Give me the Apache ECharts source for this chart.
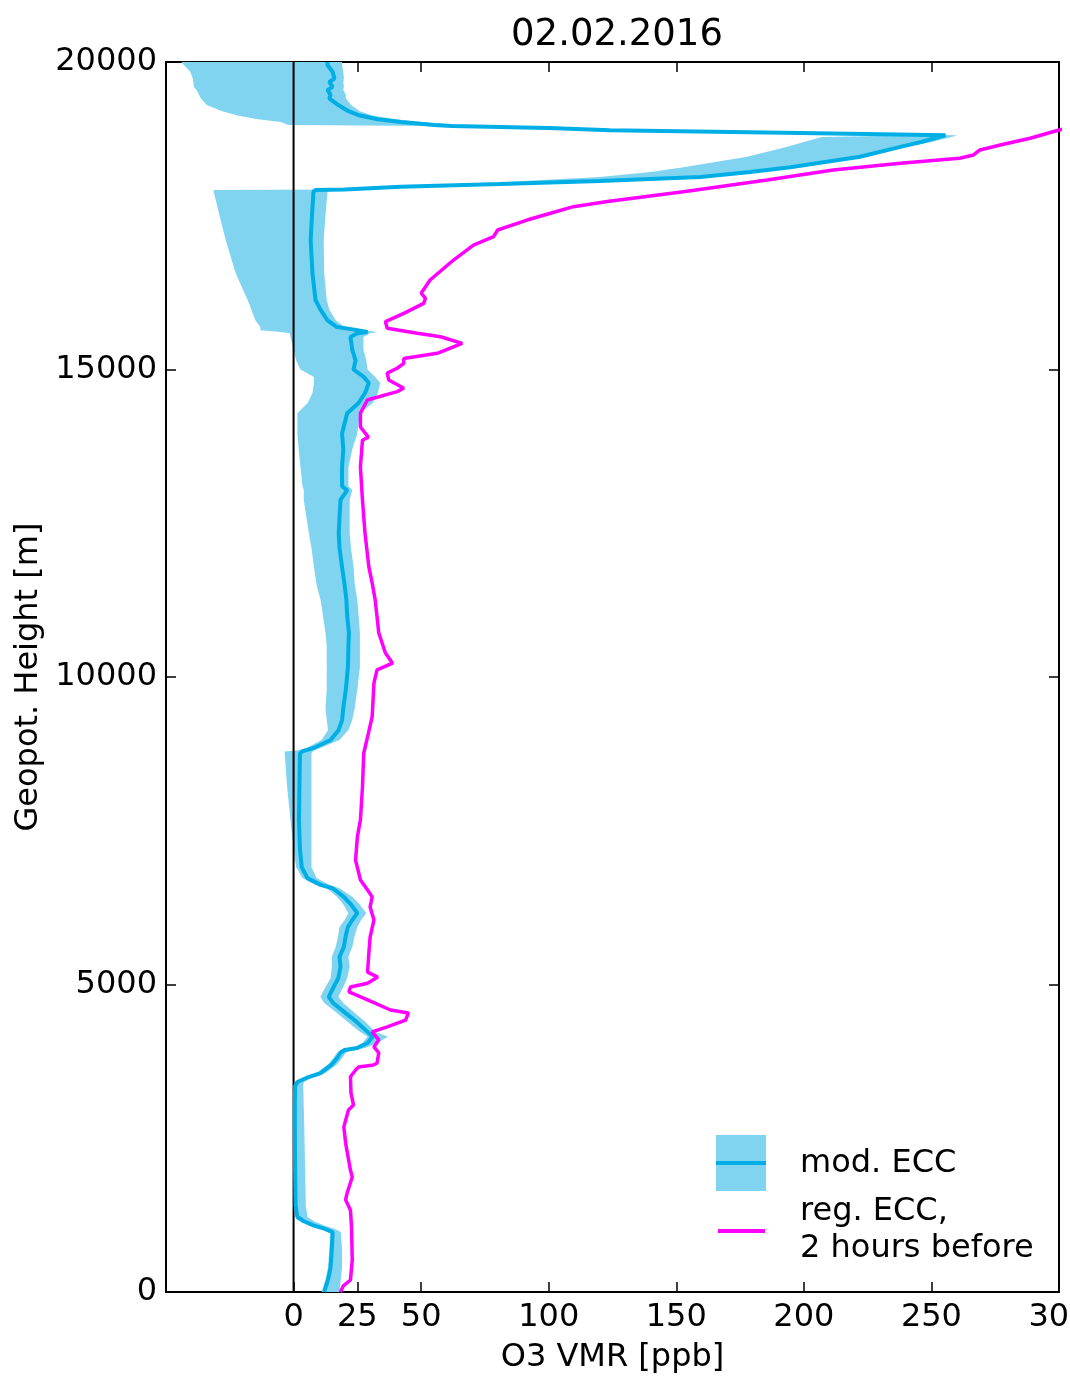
<!DOCTYPE html>
<html>
<head>
<meta charset="utf-8">
<script src="https://cdn.jsdelivr.net/npm/echarts@6/dist/echarts.min.js"></script>
<style>
  html, body { margin: 0; padding: 0; background: #fff; }
  #chart { width: 1070px; height: 1395px; }
</style>
</head>
<body>
<div id="chart"></div>
<script>
// mod. ECC profile: height [m], median VMR, lower and upper edge of the shaded range [ppb]
const eccHeight = [0, 200, 400, 700, 975, 1030, 1080, 1150, 1220, 1400, 2000, 2700, 3000, 3350, 3415, 3480, 3560, 3700, 3800, 3890,
  3935, 3967, 4050, 4100, 4150, 4230, 4400, 4535, 4700, 4800, 4960, 5100, 5285, 5450, 5610, 5800, 5935, 6050, 6160, 6300,
  6425, 6565, 6620, 6730, 6910, 7200, 7675, 8200, 8760, 8790, 8810, 8845, 8975, 9140, 9300, 9500, 9800, 10165, 10500, 10715,
  11000, 11250, 11500, 11790, 12100, 12340, 12600, 12880, 13040, 13100, 13415, 13700, 13960, 14290, 14455, 14615, 14780, 14880, 15000, 15150,
  15320, 15530, 15590, 15610, 15640, 15690, 15800, 15970, 16130, 16565, 17105, 17500, 17890, 17920, 17925, 17970, 18015, 18065, 18130, 18210,
  18290, 18460, 18620, 18700, 18780, 18810, 18845, 18890, 18925, 18960, 18975, 19025, 19070, 19130, 19200, 19300, 19410, 19465, 19545, 19595,
  19675, 19730, 19840, 19950, 20000];
const eccMid = [12, 13.5, 14.5, 15, 15.3, 12, 8, 4, 1.5, 0.8, 0.6, 0.5, 0.5, 0.6, 1.5, 5, 10.6, 15, 17, 18.4,
  20, 25, 29, 30, 31, 29, 24.5, 20.4, 15.5, 13.8, 15.7, 17.5, 18.4, 18, 19.7, 20.5, 21.3, 23, 25, 22.5,
  19.7, 15.3, 10.6, 5.4, 3.2, 2.5, 2.1, 2.3, 2.5, 3.5, 5, 7.9, 14.5, 17.7, 19, 19.5, 20.5, 21.3, 21.5, 21.7,
  21, 20.7, 20, 19, 18, 17.7, 18, 18.4, 21, 19, 19, 19.5, 19, 21, 25.5, 28, 29.5, 27.5, 23.5, 24.3,
  23, 22.3, 25, 29, 25, 17, 13.3, 10.6, 8.6, 7.4, 6.7, 7.2, 7.8, 8.6, 20, 42, 81, 120, 159.4, 179,
  194.7, 222, 237.8, 246, 253, 255.5, 198.6, 124, 100, 62, 55, 42, 33, 26, 21.5, 17.5, 14, 14.5, 13.3, 15.3,
  14, 16, 15.3, 13.3, 13.3];
const eccLow = [11, 12.5, 13.5, 14, 14.5, 10.5, 6.5, 3, 1, 0.5, 0.3, 0.2, 0, 0, 0.5, 4, 9, 13.5, 15.5, 17,
  18.5, 23, 27, 28, 29, 26, 21, 17, 12, 10.5, 12.5, 14.5, 15, 15, 16.5, 17.5, 18, 20, 21.5, 19.5,
  17, 13, 8.5, 3.5, 1, 0, -1.2, -2.5, -3.5, -3.5, 2, 5, 11, 13.5, 13, 12.5, 13, 13, 13, 12.5,
  11.5, 10.6, 9, 8, 7, 6, 5, 4, 4, 3.5, 2.7, 2, 1.5, 1.5, 5.5, 7.4, 8, 8, 2.7, 1,
  0, -1.2, -1.5, -5, -13, -13, -15, -16.5, -18, -22.7, -26.6, -29, -31.3, -31.3, 15, 38, 70, 90, 120, 140,
  152.8, 177.8, 193.5, 200, 207, 245, 190, 115, 92, 55, -2, -5, -14, -22, -28, -34, -36.4, -37, -38, -39,
  -39.3, -39.5, -40.5, -43, -44];
const eccHigh = [18, 18.5, 19, 19, 18.5, 16, 12, 8, 5.5, 4.8, 4.5, 4.2, 4, 3.8, 4, 7, 12.5, 17, 19, 20.5,
  23, 28, 33, 35, 37, 32, 28, 24, 19.5, 17.5, 19.5, 21, 22, 21.5, 23, 24, 25, 26.5, 28.5, 26,
  23, 18, 14, 9, 7, 7, 7, 7, 7, 7.5, 8, 10.5, 18, 21.5, 23, 24, 25, 26, 26, 26,
  25.5, 25, 24, 23.5, 22.5, 22, 22, 22, 23, 21.5, 21.5, 23, 25, 26, 31, 33, 34, 32, 29, 28.5,
  27.4, 27.4, 30, 33, 28, 20, 16.5, 14, 13, 12, 11.8, 12.5, 13.3, 13, 22, 44, 83, 122, 161, 181,
  197, 225, 240, 250, 258, 260, 203, 128, 106, 68, 66, 50, 40, 31, 26, 22.5, 20.5, 20.5, 19.5, 19.7,
  19.5, 19.7, 19.5, 19, 19];

// reg. ECC, 2 hours before
const regHeight = [0, 100, 195, 520, 1060, 1330, 1500, 1610, 1870, 1980, 2420, 2685, 2960, 3040, 3235, 3500, 3610, 3660, 3690, 3720,
  3890, 3985, 4100, 4230, 4310, 4420, 4535, 4585, 4750, 4880, 4960, 5020, 5120, 5200, 5510, 5770, 6050, 6260, 6425, 6535,
  6700, 7020, 7400, 7675, 8210, 8760, 9025, 9350, 9900, 10115, 10225, 10390, 10715, 11250, 11530, 11790, 12340, 12880, 13415, 13850,
  13900, 14065, 14288, 14504, 14640, 14695, 14830, 14940, 15020, 15100, 15180, 15263, 15426, 15533, 15588, 15670, 15777, 15913, 16076, 16157,
  16240, 16455, 16780, 17024, 17160, 17268, 17430, 17540, 17648, 17730, 17890, 18080, 18244, 18352, 18434, 18488, 18570, 18650, 18760, 18890,
  18950];
const regVmr = [18.4, 19.5, 22.3, 23, 22.7, 22.3, 20.4, 21, 23, 22.3, 20.4, 19.7, 21.5, 23.5, 22.5, 22.3, 24.3, 25.5, 31.3, 32.7,
  33.4, 31.5, 33.4, 30.8, 36.7, 43.9, 45, 38, 29, 21.7, 22.3, 29, 33, 29, 29.5, 30, 31.5, 30, 30.8, 29,
  26.2, 24.3, 25, 26.2, 27, 27.5, 29, 30.8, 31.5, 32.7, 38.8, 36, 33.4, 32, 30.8, 29.5, 28, 27, 26.2, 27,
  29.3, 26.2, 26.2, 28.9, 40.6, 43.2, 37.3, 36.7, 40.6, 43.2, 43.2, 56.3, 66.1, 57.6, 48.5, 36.7, 36, 43.2, 51, 51.7,
  50, 53.5, 62.7, 70.5, 78.4, 80, 91.5, 100.7, 109.7, 123, 152.8, 185.6, 211.5, 237.8, 261, 266.5, 269, 277, 288.7, 299.7,
  306];

const zeroLine = [[0, 0], [0, 20000]];
const xTicks = [0, 25, 50, 100, 150, 200, 250, 300];

const BAND_COLOR = '#80d4f0';
const ECC_COLOR = '#00aee6';
const REG_COLOR = '#ff00ff';
const FONT = 'DejaVu Sans';

const chart = echarts.init(document.getElementById('chart'), null, { renderer: 'canvas' });

const tickLabel = { fontFamily: FONT, fontSize: 32, color: '#000' };
const frameLine = { show: true, onZero: false, lineStyle: { color: '#000', width: 2 } };
const innerTick = { show: true, inside: true, length: 10, lineStyle: { color: '#000', width: 1.5 } };

const option = {
  animation: false,
  backgroundColor: '#fff',
  title: {
    text: '02.02.2016',
    left: 612,
    top: 12,
    textAlign: 'center',
    textStyle: { fontFamily: FONT, fontSize: 37, fontWeight: 'normal', color: '#000' }
  },
  grid: { left: 166, right: 11, top: 62, bottom: 103, containLabel: false, outerBoundsMode: 'none' },
  xAxis: [
    {
      type: 'value', position: 'bottom', min: -50, max: 300,
      axisLine: frameLine,
      axisTick: { ...innerTick, customValues: xTicks },
      axisLabel: { ...tickLabel, margin: 10, customValues: xTicks },
      splitLine: { show: false },
      name: 'O3 VMR [ppb]', nameLocation: 'middle', nameGap: 50,
      nameTextStyle: { fontFamily: FONT, fontSize: 32, color: '#000' }
    },
    {
      type: 'value', position: 'top', min: -50, max: 300,
      axisLine: frameLine,
      axisTick: { ...innerTick, customValues: xTicks },
      axisLabel: { show: false },
      splitLine: { show: false }
    }
  ],
  yAxis: [
    {
      type: 'value', position: 'left', min: 0, max: 20000, interval: 5000,
      axisLine: frameLine,
      axisTick: innerTick,
      axisLabel: { ...tickLabel, margin: 9, formatter: (v) => String(v) },
      splitLine: { show: false },
      name: 'Geopot. Height [m]', nameLocation: 'middle', nameGap: 121, nameRotate: 90,
      nameTextStyle: { fontFamily: FONT, fontSize: 32, color: '#000' }
    },
    {
      type: 'value', position: 'right', min: 0, max: 20000, interval: 5000,
      axisLine: frameLine,
      axisTick: innerTick,
      axisLabel: { show: false },
      splitLine: { show: false }
    }
  ],
  series: [
    {
      // shaded range of the modified ECC, drawn as one polygon through the axis scales
      name: 'mod. ECC range',
      type: 'custom',
      clip: true,
      data: eccHeight.map((h, i) => [eccLow[i], h]),
      renderItem: (params, api) => {
        if (params.dataIndex !== 0) return null;
        const pts = [];
        for (let i = 0; i < eccHeight.length; i++) pts.push(api.coord([eccLow[i], eccHeight[i]]));
        for (let i = eccHeight.length - 1; i >= 0; i--) pts.push(api.coord([eccHigh[i], eccHeight[i]]));
        return { type: 'polygon', shape: { points: pts }, style: { fill: BAND_COLOR, stroke: null } };
      },
      z: 1
    },
    {
      name: 'zero',
      type: 'line',
      data: zeroLine,
      symbol: 'none',
      lineStyle: { color: '#000', width: 2 },
      z: 2
    },
    {
      name: 'mod. ECC',
      type: 'line',
      data: eccHeight.map((h, i) => [eccMid[i], h]),
      symbol: 'none',
      lineStyle: { color: ECC_COLOR, width: 4 },
      z: 3
    },
    {
      name: 'reg. ECC',
      type: 'line',
      data: regHeight.map((h, i) => [regVmr[i], h]),
      symbol: 'none',
      lineStyle: { color: REG_COLOR, width: 3.5 },
      z: 4
    }
  ],
  // legend box drawn by hand to get the band + line swatch
  graphic: [
    { type: 'rect', left: 716, top: 1135, shape: { width: 50, height: 56 }, style: { fill: BAND_COLOR }, z: 10 },
    { type: 'line', shape: { x1: 716, y1: 1163, x2: 766, y2: 1163 }, style: { stroke: ECC_COLOR, lineWidth: 4 }, z: 11 },
    { type: 'line', shape: { x1: 718, y1: 1231, x2: 765, y2: 1231 }, style: { stroke: REG_COLOR, lineWidth: 4 }, z: 11 },
    { type: 'text', x: 800, y: 1164, style: { text: 'mod. ECC', font: '32px "DejaVu Sans"', fill: '#000', verticalAlign: 'middle' }, z: 11 },
    { type: 'text', x: 800, y: 1230, style: { text: 'reg. ECC,\n2 hours before', font: '32px "DejaVu Sans"', lineHeight: 37, fill: '#000', verticalAlign: 'middle' }, z: 11 }
  ]
};

chart.setOption(option);
</script>
</body>
</html>
